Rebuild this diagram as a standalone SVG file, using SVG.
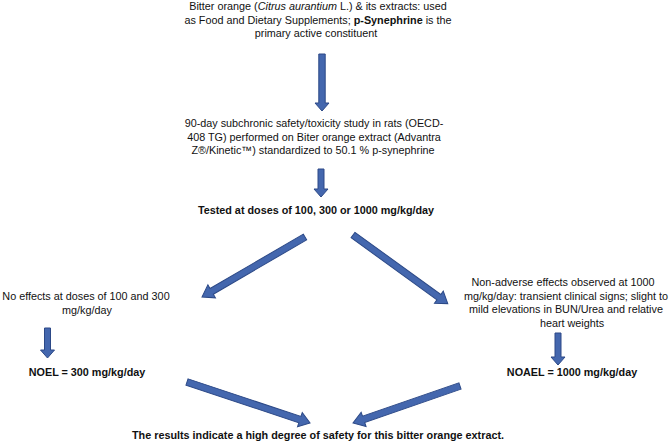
<svg xmlns="http://www.w3.org/2000/svg" width="670" height="443" viewBox="0 0 670 443">
<style>
text{font-family:"Liberation Sans",Arial,sans-serif;font-size:10.8px;fill:#111;text-anchor:middle}
.b{font-weight:bold}
.arr{fill:#4467AE;stroke:#2C4987;stroke-width:1;stroke-linejoin:miter}
</style>
<rect width="670" height="443" fill="#fff"/>
<g id="n-source">
<text x="318" y="10">Bitter orange (<tspan font-style="italic">Citrus aurantium</tspan> L.) &amp; its extracts: used</text>
<text x="318" y="23.5">as Food and Dietary Supplements; <tspan class="b">p-Synephrine</tspan> is the</text>
<text x="316" y="37">primary active constituent</text>
</g>
<g id="n-study">
<text x="314" y="127">90-day subchronic safety/toxicity study in rats (OECD-</text>
<text x="314" y="140.5">408 TG) performed on Biter orange extract (Advantra</text>
<text x="313" y="154">Z®/Kinetic™) standardized to 50.1 % p-synephrine</text>
</g>
<g id="n-doses">
<text class="b" x="316" y="214">Tested at doses of 100, 300 or 1000 mg/kg/day</text>
</g>
<g id="n-noeffects">
<text x="86" y="300">No effects at doses of 100 and 300</text>
<text x="87" y="313.5">mg/kg/day</text>
</g>
<g id="n-nonadverse">
<text x="563" y="286">Non-adverse effects observed at 1000</text>
<text x="566" y="299.5">mg/kg/day: transient clinical signs; slight to</text>
<text x="566" y="313">mild elevations in BUN/Urea and relative</text>
<text x="572" y="326.5">heart weights</text>
</g>
<g id="n-noel">
<text class="b" x="87" y="376">NOEL = 300 mg/kg/day</text>
</g>
<g id="n-noael">
<text class="b" x="572" y="376">NOAEL = 1000 mg/kg/day</text>
</g>
<g id="n-conclusion">
<text class="b" x="318" y="439">The results indicate a high degree of safety for this bitter orange extract.</text>
</g>
<g id="connectors">
<path class="arr" transform="translate(322,54) rotate(90)" d="M0,-3.2 H49 V-7 L57,0 L49,7 V3.2 H0 Z"/>
<path class="arr" transform="translate(321,169) rotate(90)" d="M0,-3 H20 V-7 L28,0 L20,7 V3 H0 Z"/>
<path class="arr" transform="translate(305,237) rotate(149.78)" d="M0,-3.3 H108 V-7.5 L119.2,0 L108,7.5 V3.3 H0 Z"/>
<path class="arr" transform="translate(353,235) rotate(35.9)" d="M0,-3.3 H106 V-7.5 L117,0 L106,7.5 V3.3 H0 Z"/>
<path class="arr" transform="translate(47.5,328) rotate(90)" d="M0,-3 H22 V-7 L30,0 L22,7 V3 H0 Z"/>
<path class="arr" transform="translate(558,333) rotate(90)" d="M0,-3 H24 V-7 L32,0 L24,7 V3 H0 Z"/>
<path class="arr" transform="translate(187,382) rotate(18.43)" d="M0,-3.3 H119 V-7.5 L129.7,0 L119,7.5 V3.3 H0 Z"/>
<path class="arr" transform="translate(460,386) rotate(160.93)" d="M0,-3.3 H102 V-7.5 L113.2,0 L102,7.5 V3.3 H0 Z"/>
</g>
</svg>
